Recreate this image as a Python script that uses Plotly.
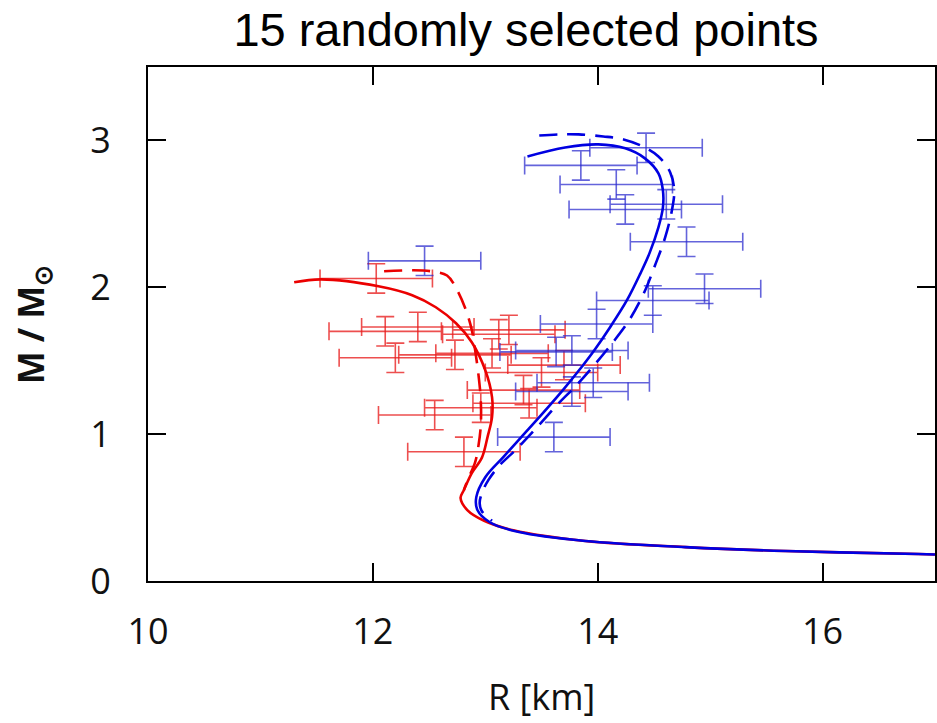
import plotly.graph_objects as go

# Mass-radius curves (R in km, M in solar masses)
red_solid_r = [11.30, 11.54, 12.05, 12.35, 12.56, 12.74, 12.88, 13.00, 13.06, 13.06, 13.02, 12.97,
               12.88, 12.81, 12.78, 12.84, 12.99, 13.25, 13.89, 14.78, 15.67, 16.85, 17.0]
red_solid_m = [2.034, 2.054, 2.007, 1.946, 1.864, 1.755, 1.626, 1.435, 1.252, 1.116, 0.98, 0.84,
               0.735, 0.62, 0.565, 0.483, 0.41, 0.345, 0.272, 0.231, 0.204, 0.184, 0.18]

red_dash_r = [12.10, 12.35, 12.52, 12.66, 12.75, 12.83, 12.88, 12.91, 12.94, 12.96, 12.96,
              12.94, 12.91, 12.85, 12.81]
red_dash_m = [2.109, 2.116, 2.109, 2.08, 1.98, 1.84, 1.71, 1.57, 1.40, 1.23, 1.06,
              0.925, 0.81, 0.70, 0.62]

blue_solid_r = [13.375, 13.71, 14.005, 14.245, 14.42, 14.54, 14.58, 14.58, 14.54, 14.46, 14.38,
                14.26, 14.11, 13.97, 13.85, 13.69, 13.52, 13.32, 13.16, 13.00, 12.92,
                12.93, 13.04, 13.30, 13.89, 14.78, 15.67, 16.85, 17.0]
blue_solid_m = [2.891, 2.952, 2.973, 2.946, 2.878, 2.776, 2.66, 2.544, 2.408, 2.231, 2.095,
                1.912, 1.728, 1.571, 1.45, 1.30, 1.15, 0.98, 0.844, 0.707, 0.571,
                0.483, 0.40, 0.333, 0.272, 0.231, 0.204, 0.184, 0.18]

blue_dash_r = [13.48, 13.65, 13.83, 14.05, 14.23, 14.40, 14.54, 14.645, 14.68, 14.66, 14.60,
               14.51, 14.41, 14.28, 14.13, 13.98, 13.82, 13.64, 13.44, 13.28, 13.13, 13.03,
               12.97, 12.95, 12.97, 13.06]
blue_dash_m = [3.034, 3.041, 3.041, 3.027, 3.007, 2.959, 2.891, 2.782, 2.66, 2.524, 2.34,
               2.15, 1.959, 1.776, 1.62, 1.48, 1.34, 1.20, 1.03, 0.90, 0.79, 0.69,
               0.60, 0.53, 0.475, 0.41]

# Simulated observations with uncertainties
red_obs_r = [12.03, 12.11, 12.40, 12.20, 12.73, 12.55, 12.81, 13.34, 13.39, 13.12,
             13.21, 13.06, 13.70, 13.50, 12.96]
red_obs_m = [2.06, 1.70, 1.73, 1.52, 1.54, 1.13, 0.88, 1.30, 1.21, 1.68,
             1.71, 1.55, 1.47, 1.42, 1.18]

blue_obs_r = [14.43, 13.85, 14.165, 14.245, 14.61, 14.79, 14.95, 14.49, 13.99, 13.77,
              13.96, 13.77, 13.61, 13.63, 12.46]
blue_obs_m = [2.95, 2.83, 2.70, 2.53, 2.565, 2.31, 1.99, 1.91, 1.75, 1.57,
              1.35, 1.29, 0.98, 1.56, 2.18]

r_err = 0.5
m_err = 0.10

RED = "rgb(235,0,0)"
BLUE = "rgb(0,0,225)"
RED_ERR = "rgba(232,30,30,0.78)"
BLUE_ERR = "rgba(40,40,205,0.72)"

fig = go.Figure()

for xs, ys, col in [(red_obs_r, red_obs_m, RED_ERR), (blue_obs_r, blue_obs_m, BLUE_ERR)]:
    fig.add_trace(go.Scatter(
        x=xs, y=ys, mode="markers",
        marker=dict(size=1, color="rgba(0,0,0,0)"),
        error_x=dict(type="constant", value=r_err, color=col, thickness=1.6, width=9),
        error_y=dict(type="constant", value=m_err, color=col, thickness=1.6, width=9),
        showlegend=False, hoverinfo="skip",
    ))

fig.add_trace(go.Scatter(x=red_dash_r, y=red_dash_m, mode="lines",
                         line=dict(color=RED, width=2.6, dash="18px,10px", shape="spline"),
                         showlegend=False))
fig.add_trace(go.Scatter(x=red_solid_r, y=red_solid_m, mode="lines",
                         line=dict(color=RED, width=2.6, shape="spline"),
                         showlegend=False))
fig.add_trace(go.Scatter(x=blue_dash_r, y=blue_dash_m, mode="lines",
                         line=dict(color=BLUE, width=2.6, dash="18px,10px", shape="spline"),
                         showlegend=False))
fig.add_trace(go.Scatter(x=blue_solid_r, y=blue_solid_m, mode="lines",
                         line=dict(color=BLUE, width=2.6, shape="spline"),
                         showlegend=False))

axis_common = dict(
    showgrid=False, zeroline=False, showline=True, linecolor="black", linewidth=2,
    mirror="allticks", ticks="inside", ticklen=18, tickwidth=1.6, tickcolor="black",
    tickfont=dict(family="Open Sans", size=36, color="#111"),
)

fig.update_xaxes(range=[10, 17], tickvals=[10, 12, 14, 16], ticktext=["10", "12", "14", "16"],
                 ticklabelstandoff=18, **axis_common)
fig.update_yaxes(range=[0, 3.5], tickvals=[0, 1, 2, 3], ticktext=["0", "1", "2", "3"],
                 ticklabelstandoff=28, **axis_common)

fig.update_layout(
    width=937, height=723,
    margin=dict(l=148, r=0, t=67, b=142),
    plot_bgcolor="white", paper_bgcolor="white",
    title=dict(text="15 randomly selected points", x=526 / 937, xanchor="center",
               y=1 - 30 / 723, yanchor="middle",
               font=dict(family="Liberation Sans", size=47, color="black")),
    annotations=[
        dict(text="R [km]", xref="paper", yref="paper", x=0.5, y=-(696 - 581) / 514,
             xanchor="center", yanchor="middle", showarrow=False,
             font=dict(family="Open Sans", size=36, color="#111")),
        dict(text="<b>M / M<sub>⊙</sub></b>", xref="paper", yref="paper", x=-(148 - 32) / 789,
             y=0.5, xanchor="center", yanchor="middle", textangle=-90, showarrow=False,
             font=dict(family="Open Sans", size=35, color="#111")),
    ],
)

fig.write_html("out.html")
